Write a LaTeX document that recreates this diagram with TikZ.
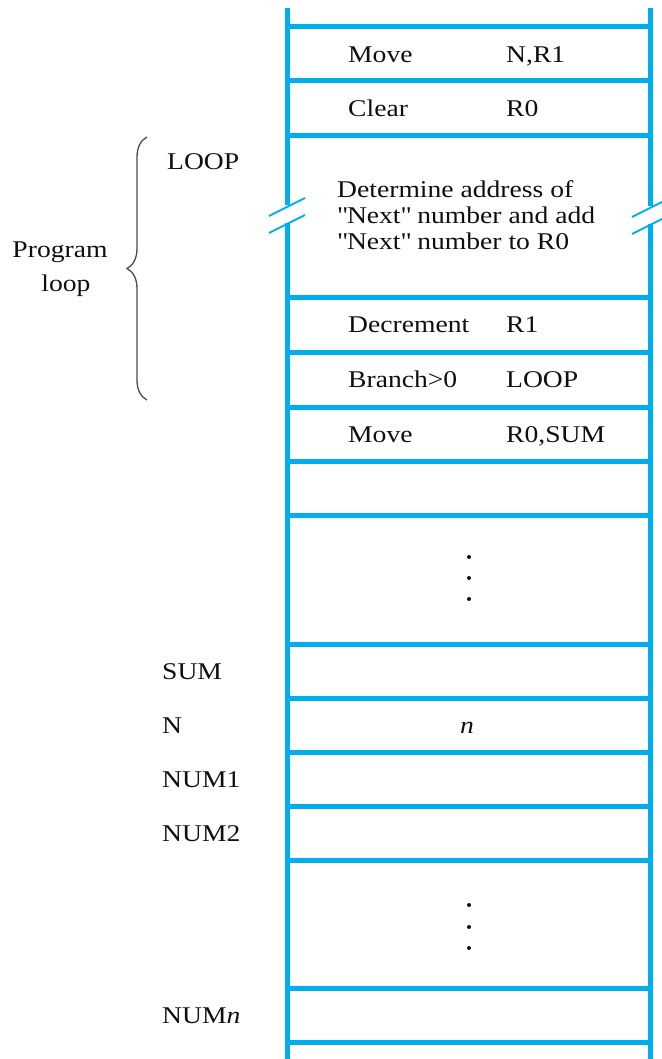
\documentclass[tikz,border=0pt]{standalone}
\usepackage{fontspec}
\setmainfont{Liberation Serif}[FakeStretch=1.15]
\usetikzlibrary{decorations.pathreplacing}
\definecolor{memblue}{RGB}{0,174,239}
\definecolor{txt}{RGB}{15,15,15}
\begin{document}
\begin{tikzpicture}[x=1pt,y=-1pt,
  wall/.style={draw=memblue,line width=5pt},
  bar/.style={draw=memblue,line width=5pt},
  slash/.style={draw=memblue,line width=2pt},
  lbl/.style={anchor=base west,inner sep=0pt,text=txt,font=\fontsize{24}{26}\selectfont},
  cbl/.style={anchor=base,inner sep=0pt,text=txt,font=\fontsize{24}{26}\selectfont},
  dotm/.style={circle,fill=txt,inner sep=0pt,minimum size=4pt}]
\useasboundingbox (0,0) rectangle (661,1059);
% walls with breaks
\coordinate (lt) at (287,8); \coordinate (lb1) at (287,205);
\coordinate (lb2) at (287,223); \coordinate (lbot) at (287,1062);
\coordinate (rt) at (650,8); \coordinate (rb1) at (650,206);
\coordinate (rb2) at (650,224); \coordinate (rbot) at (650,1062);
\draw[wall] (lt) -- (lb1); \draw[wall] (lb2) -- (lbot);
\draw[wall] (rt) -- (rb1); \draw[wall] (rb2) -- (rbot);
% break slashes
\coordinate (ls1a) at (269,216); \coordinate (ls1b) at (305,198);
\coordinate (ls2a) at (269,233); \coordinate (ls2b) at (305,215);
\coordinate (rs1a) at (632,217); \coordinate (rs1b) at (668,199);
\coordinate (rs2a) at (632,234); \coordinate (rs2b) at (668,216);
\draw[slash] (ls1a) -- (ls1b); \draw[slash] (ls2a) -- (ls2b);
\draw[slash] (rs1a) -- (rs1b); \draw[slash] (rs2a) -- (rs2b);
% horizontal bars
\foreach \y in {27,81,136,297,352,407,461,515,644,698,752,806,860,988,1042}
  \draw[bar] (287,\y) -- (650,\y);
% instructions
\node[lbl] (m1) at (348,63) {Move};      \node[lbl] (m1o) at (506,63) {N,R1};
\node[lbl] (c1) at (348,116.5) {Clear};  \node[lbl] (c1o) at (506,116.5) {R0};
\node[lbl] (d1) at (337,198) {Determine address of};
\node[lbl] (d2) at (337,224) {\textquotedbl Next\textquotedbl\ number and add};
\node[lbl] (d3) at (337,250) {\textquotedbl Next\textquotedbl\ number to R0};
\node[lbl] (dec) at (348,332.5) {Decrement}; \node[lbl] (deco) at (506,332.5) {R1};
\node[lbl] (br) at (348,387.5) {Branch>0};   \node[lbl] (bro) at (506,387.5) {LOOP};
\node[lbl] (m2) at (348,442) {Move};         \node[lbl] (m2o) at (506,442) {R0,SUM};
% dots
\node[dotm] (da1) at (469,557) {}; \node[dotm] (da2) at (469,578) {}; \node[dotm] (da3) at (469,599) {};
\node[dotm] (db1) at (469,905) {}; \node[dotm] (db2) at (469,927) {}; \node[dotm] (db3) at (469,948) {};
% data
\node[cbl] (nval) at (467,733) {\itshape n};
% left labels
\node[lbl] (loop) at (167,170) {LOOP};
\node[lbl] (sum) at (162,679) {SUM};
\node[lbl] (nn) at (162,733) {N};
\node[lbl] (num1) at (162,787) {NUM1};
\node[lbl] (num2) at (162,841) {NUM2};
\node[lbl] (numn) at (162,1023) {NUM\textit{n}};
\node[cbl] (prog) at (60,257) {Program};
\node[cbl] (progl) at (66,291) {loop};
% brace
\coordinate (bb) at (147,400); \coordinate (bt) at (147,137);
\draw[draw=black!70,line width=1.3pt,decorate,decoration={brace,amplitude=20pt,aspect=0.5}] (bb) -- (bt);
\end{tikzpicture}
\end{document}
